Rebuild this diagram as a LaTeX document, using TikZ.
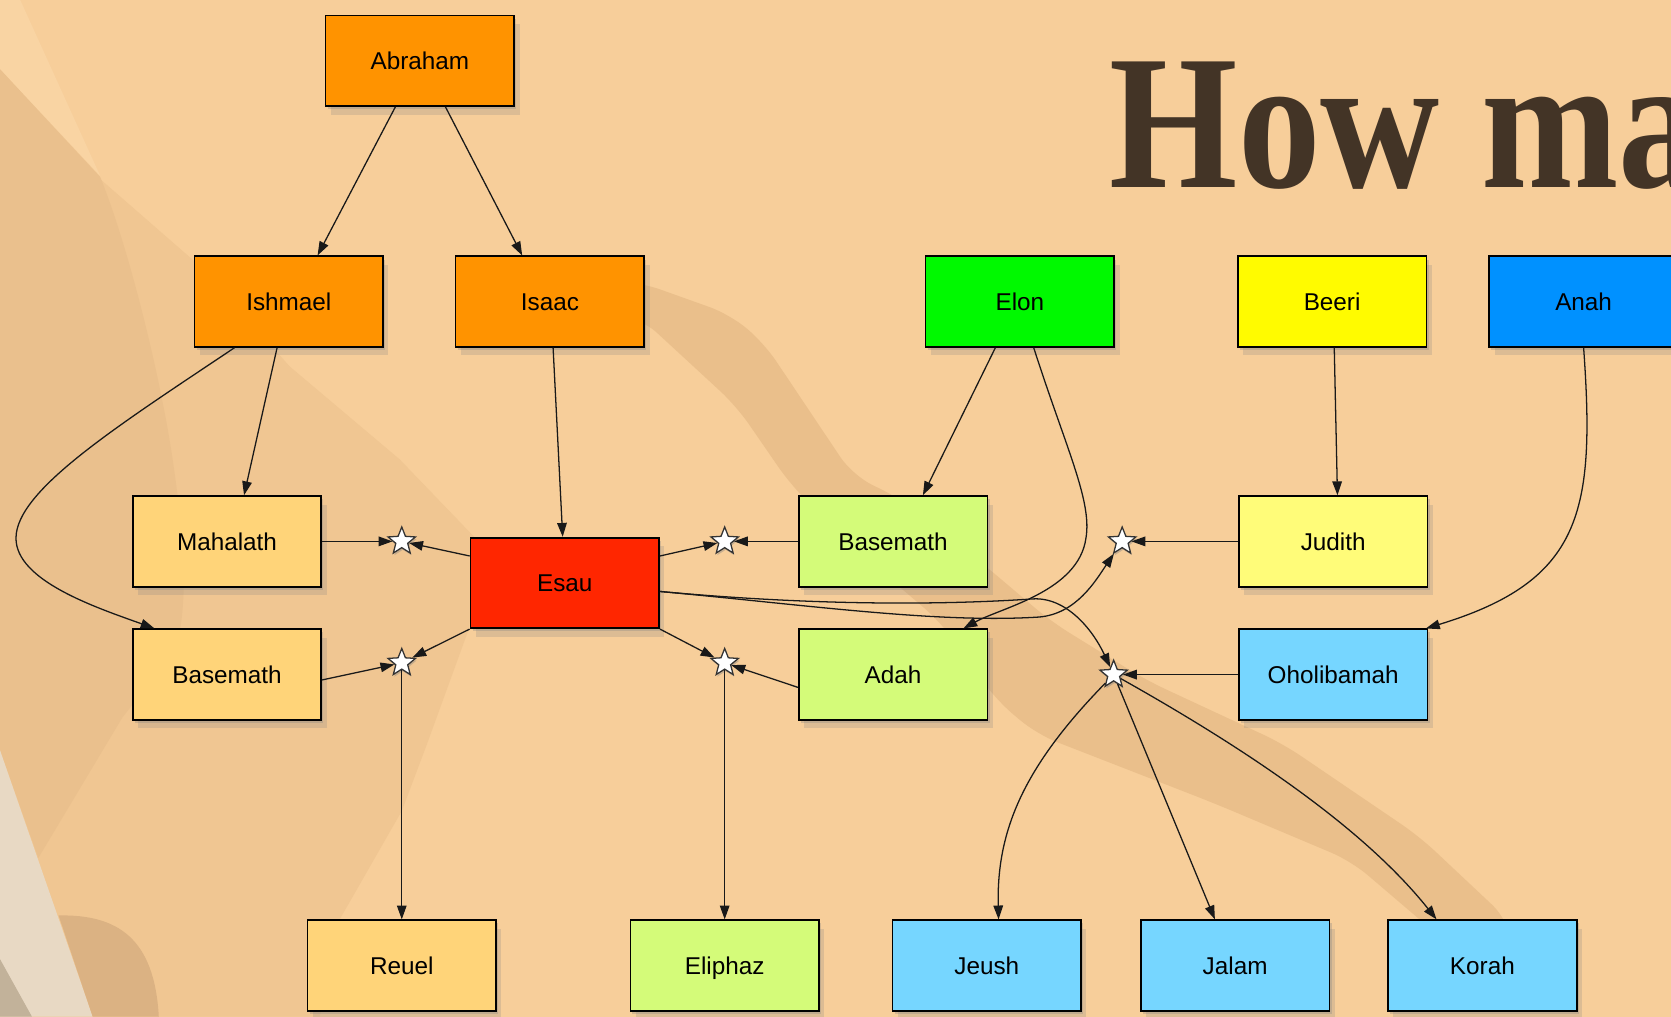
\documentclass[tikz,border=0pt]{standalone}
\usepackage{fontspec}
\setmainfont{Liberation Sans}
\newfontfamily\titlefont{Liberation Serif}
\usetikzlibrary{arrows.meta,shapes.geometric,shadows}

\definecolor{bgbase}{HTML}{F7CE9A}
\definecolor{bglight}{HTML}{F9D4A3}
\definecolor{bgmid}{HTML}{F0C692}
\definecolor{bgdark}{HTML}{EAC08D}
\definecolor{bgband}{HTML}{EABF8B}
\definecolor{bgcream}{HTML}{E8D9C4}
\definecolor{bgtan}{HTML}{DBB283}
\definecolor{bggrey}{HTML}{C2B29A}
\definecolor{titlecol}{HTML}{433426}
\definecolor{ctang}{HTML}{FF9300}
\definecolor{cred}{HTML}{FF2600}
\definecolor{cgreen}{HTML}{00F900}
\definecolor{cyellow}{HTML}{FFFB00}
\definecolor{cblue}{HTML}{0091FF}
\definecolor{ccant}{HTML}{FFD479}
\definecolor{choney}{HTML}{D4FB79}
\definecolor{cbanana}{HTML}{FFFC79}
\definecolor{csky}{HTML}{76D6FF}

\begin{document}
\begin{tikzpicture}[x=0.5pt,y=-0.5pt,
  box/.style={draw=black, line width=0.8pt, minimum width=88.5pt, minimum height=42.5pt,
    inner sep=0pt, text height=8.2pt, text depth=0pt,
    font=\fontsize{11.4}{13}\selectfont, text=black,
    drop shadow={shadow xshift=1pt,shadow yshift=-1.5pt,opacity=0.3},
    drop shadow={shadow xshift=2.5pt,shadow yshift=-4pt,opacity=0.22}},
  wed/.style={star, star points=5, star point ratio=2.3, minimum size=13.5pt, inner sep=0pt,
    fill=white, draw=black!80, line width=0.6pt,
    drop shadow={shadow xshift=0.5pt,shadow yshift=-1pt,opacity=0.4}},
  link/.style={draw=black!90, line width=0.6pt, -{Triangle[length=6.5pt,width=4.5pt]}}
]
\useasboundingbox (0,0) rectangle (1568,954);
\clip (0,0) rectangle (1568,954);

% background
\fill[bgbase] (0,0) rectangle (1568,954);
\fill[bglight] (0,0) -- (19,0) -- (94,165) -- (0,65) -- cycle;
\fill[bgmid] (0,65) -- (94,168) -- (188,250) -- (272,344) -- (375,431) -- (450,509)
  -- (440,590) -- (400,700) -- (377,761) -- (318,864) -- (300,954) -- (0,954) -- cycle;
\fill[bgdark] (0,65) -- (94,166) .. controls (120,230) and (150,350) .. (162,431)
  .. controls (172,500) and (178,560) .. (165,610) -- (115,673) -- (36,805) -- (0,704) -- cycle;
\fill[bgband, rounded corners=10pt] (560,262) -- (601,265) -- (685,295) -- (717,322) -- (800,446)
  -- (845,468) -- (921,528) -- (986,583) -- (1075,638) -- (1204,698) -- (1332,785) -- (1415,863)
  -- (1420,890) -- (1364,890) -- (1268,808) -- (1140,754) -- (973,689) -- (935,657) -- (883,584)
  -- (807,519) -- (742,455) -- (691,381) -- (601,298) -- (560,296) -- cycle;
\fill[bgcream] (0,704) -- (87,954) -- (0,954) -- cycle;
\fill[bgtan] (55,859) .. controls (110,858) and (145,880) .. (149,954) -- (87,954) -- cycle;
\fill[bggrey] (0,900) -- (30,954) -- (0,954) -- cycle;

% title
\node[anchor=base west, inner sep=0pt, text=titlecol,
  font=\titlefont\bfseries\fontsize{90}{90}\selectfont] (title) at (1041,176) {\scalebox{0.86}[1]{How ma}};

% boxes
\node[box, fill=ctang] (abraham) at (394,57) {Abraham};
\node[box, fill=ctang] (ishmael) at (271,283) {Ishmael};
\node[box, fill=ctang] (isaac) at (516,283) {Isaac};
\node[box, fill=cgreen] (elon) at (957,283) {Elon};
\node[box, fill=cyellow] (beeri) at (1250,283) {Beeri};
\node[box, fill=cblue] (anah) at (1486,283) {Anah};
\node[box, fill=ccant] (mahalath) at (213,508) {Mahalath};
\node[box, fill=ccant] (basemathL) at (213,633) {Basemath};
\node[box, fill=cred] (esau) at (530,547) {Esau};
\node[box, fill=choney] (basemathR) at (838,508) {Basemath};
\node[box, fill=choney] (adah) at (838,633) {Adah};
\node[box, fill=cbanana] (judith) at (1251,508) {Judith};
\node[box, fill=csky] (oholibamah) at (1251,633) {Oholibamah};
\node[box, fill=ccant] (reuel) at (377,906) {Reuel};
\node[box, fill=choney] (eliphaz) at (680,906) {Eliphaz};
\node[box, fill=csky] (jeush) at (926,906) {Jeush};
\node[box, fill=csky] (jalam) at (1159,906) {Jalam};
\node[box, fill=csky] (korah) at (1391,906) {Korah};

% marriage stars
\node[wed] (s1) at (377,508) {};
\node[wed] (s2) at (377,622) {};
\node[wed] (s3) at (680,508) {};
\node[wed] (s4) at (680,622) {};
\node[wed] (s5) at (1053,508) {};
\node[wed] (s6) at (1045,633) {};

% connectors
\draw[link] ([xshift=-11.5pt]abraham.south) -- ([xshift=13.5pt]ishmael.north);
\draw[link] ([xshift=12pt]abraham.south) -- ([xshift=-13pt]isaac.north);
\draw[link] ([xshift=-5.5pt]ishmael.south) -- ([xshift=8pt]mahalath.north);
\draw[link] ([xshift=-25.5pt]ishmael.south) .. controls (110,400) and (15,460) .. (15,505)
  .. controls (15,545) and (90,570) .. ([xshift=-34pt]basemathL.north);
\draw[link] ([xshift=1.5pt]isaac.south) -- ([xshift=-1pt]esau.north);
\draw[link] (mahalath.east) -- (s1);
\draw[link] ([yshift=-9pt]esau.north west) -- (s1);
\draw[link] ([yshift=-2.5pt]basemathL.east) -- (s2);
\draw[link] (esau.south west) -- (s2);
\draw[link] (s2) -- (reuel.north);
\draw[link] ([yshift=-9pt]esau.north east) -- (s3);
\draw[link] (basemathR.west) -- (s3);
\draw[link] (esau.south east) -- (s4);
\draw[link] ([yshift=-6pt]adah.west) -- (s4);
\draw[link] (s4) -- (eliphaz.north);
\draw[link] ([xshift=-11.5pt]elon.south) -- ([xshift=14pt]basemathR.north);
\draw[link] ([xshift=6.5pt]elon.south) .. controls (1000,420) and (1025,470) .. (1019,505)
  .. controls (1012,555) and (940,570) .. ([xshift=33pt]adah.north);
\draw[link] ([xshift=1pt]beeri.south) -- ([xshift=2pt]judith.north);
\draw[link] (judith.west) -- (s5);
\draw[link] (anah.south) .. controls (1497,480) and (1485,545) .. ([xshift=43.5pt]oholibamah.north);
\draw[link] (oholibamah.west) -- (s6);
\draw[link] ([yshift=-4pt]esau.east) .. controls (760,568) and (880,585) .. (975,579)
  .. controls (1010,576) and (1028,545) .. (s5);
\draw[link] ([yshift=-4pt]esau.east) .. controls (760,568) and (880,568) .. (969,562)
  .. controls (1000,560) and (1025,590) .. (s6);
\draw[link] (s6) .. controls (960,720) and (935,780) .. ([xshift=5.5pt]jeush.north);
\draw[link] (s6) -- ([xshift=-9.5pt]jalam.north);
\draw[link] (s6) .. controls (1200,720) and (1290,790) .. ([xshift=-21.5pt]korah.north);
\end{tikzpicture}
\end{document}
